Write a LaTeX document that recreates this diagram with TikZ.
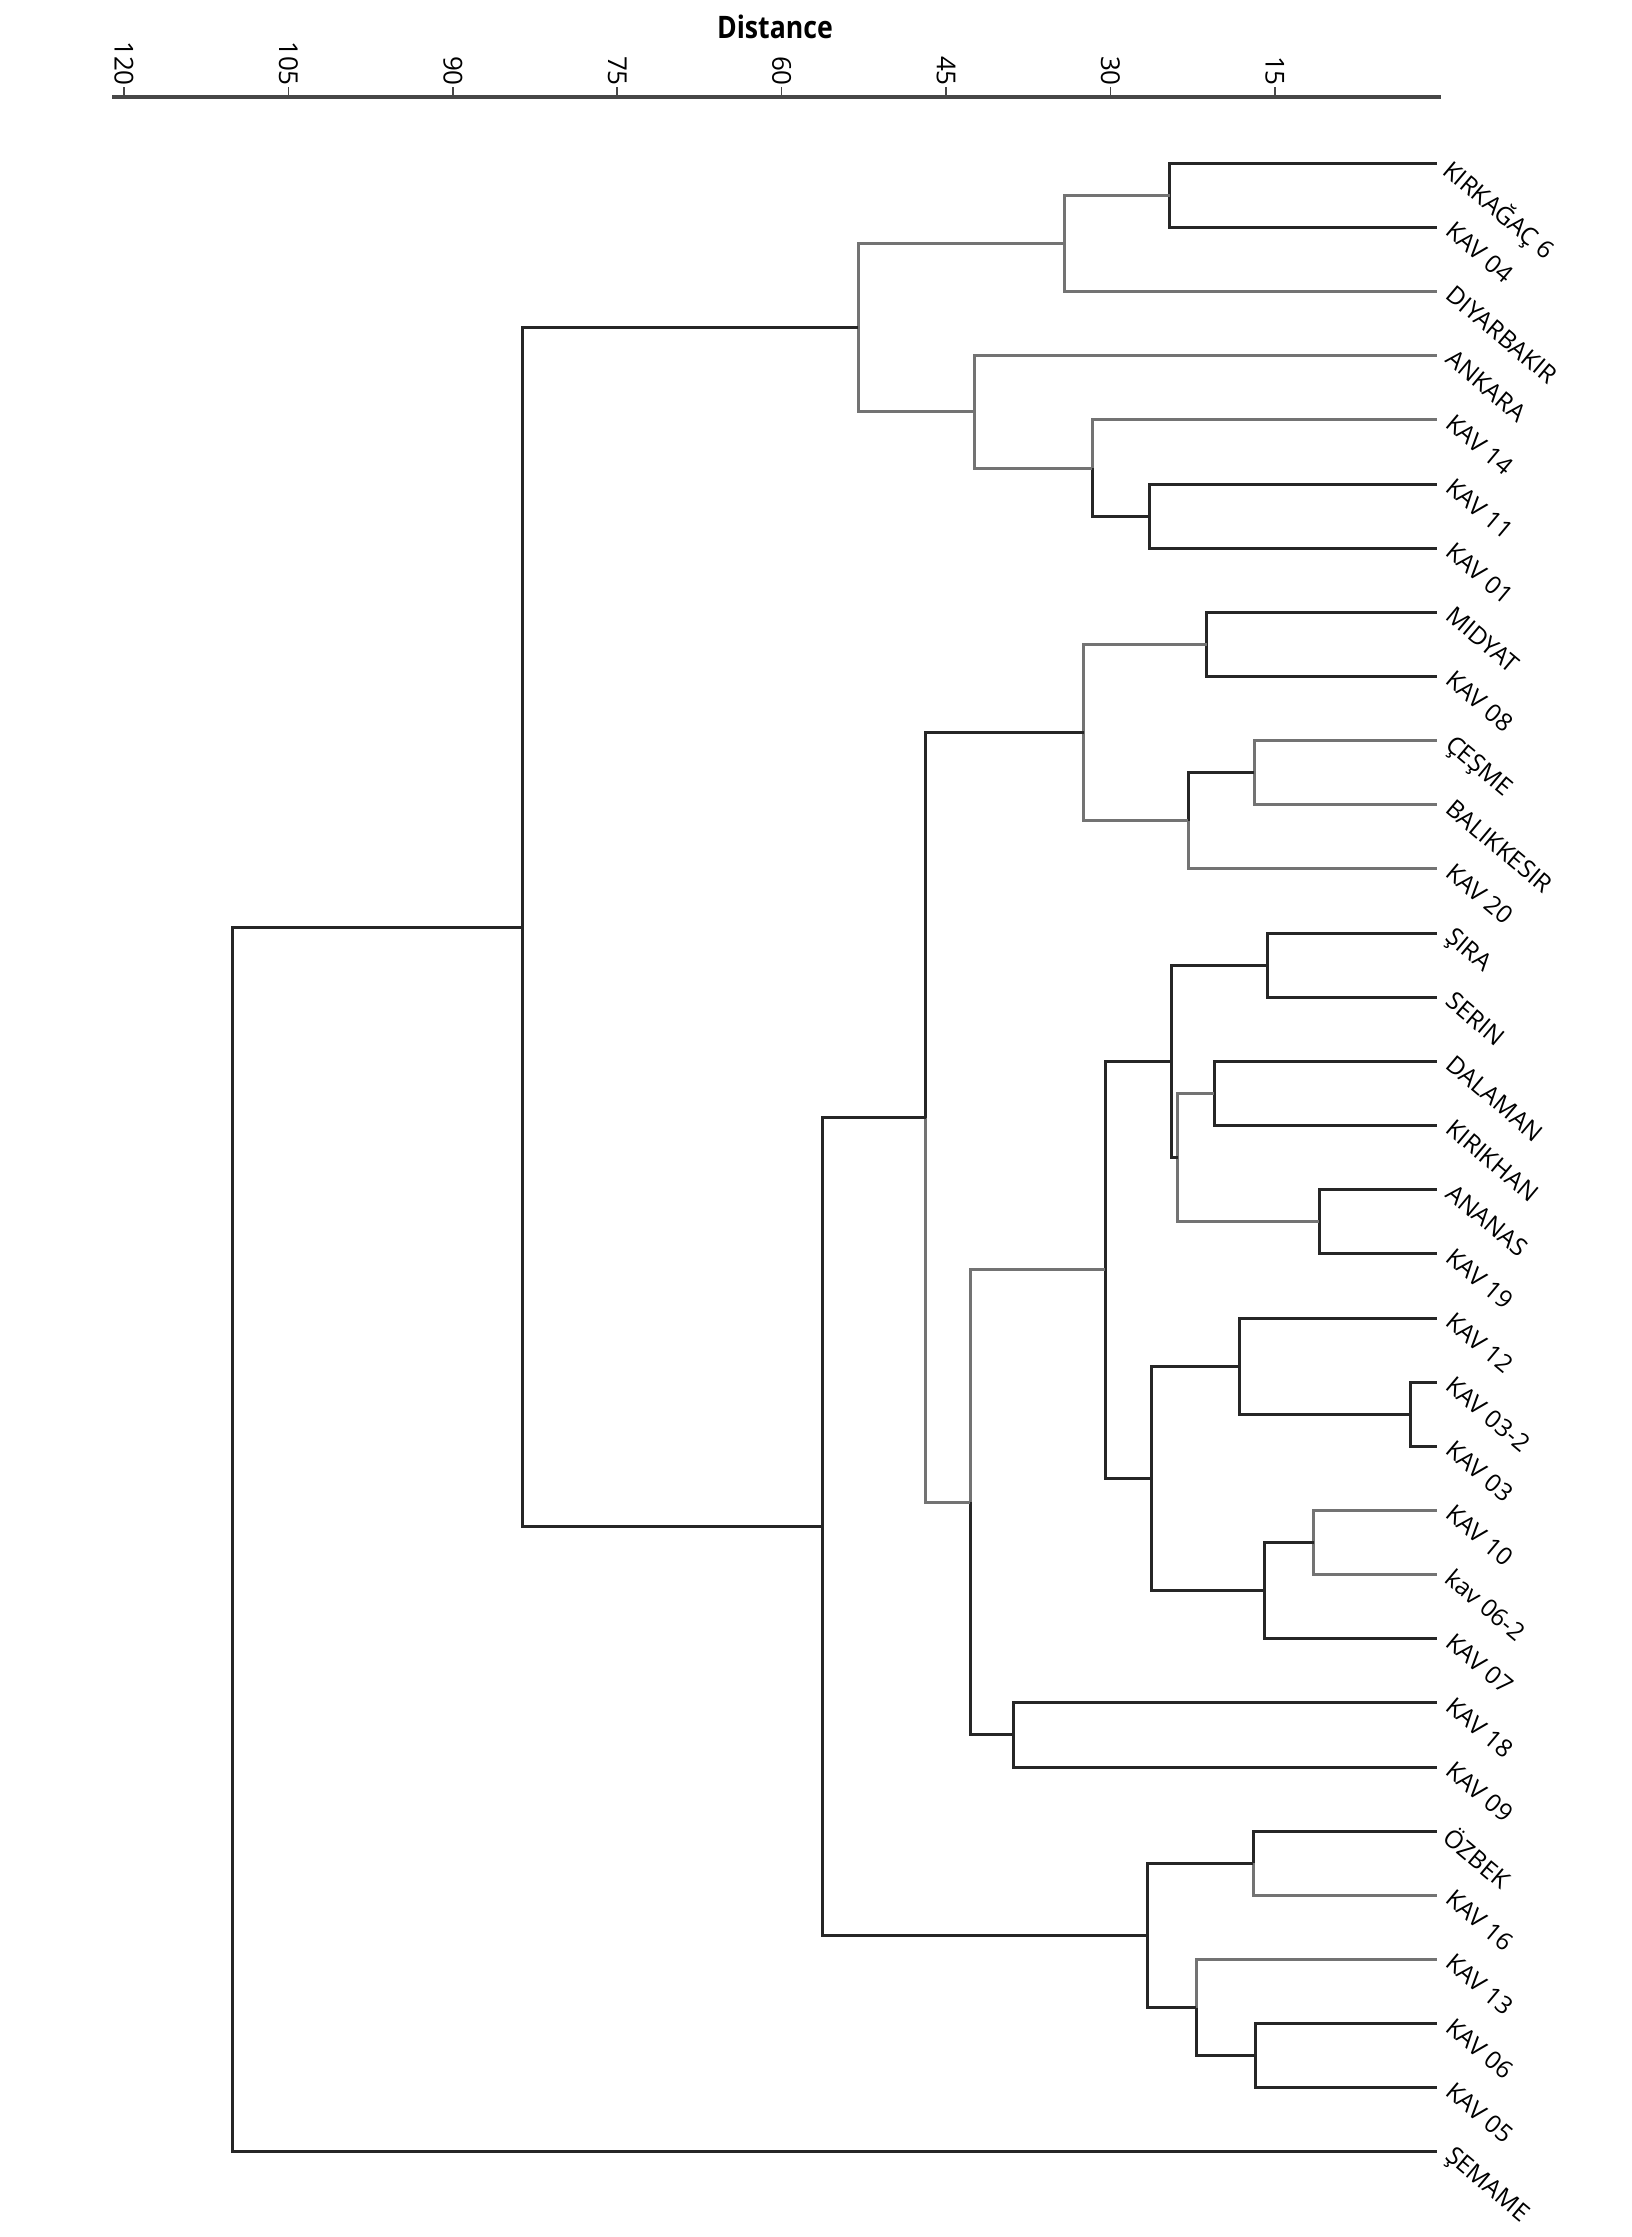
\documentclass[tikz,border=0pt]{standalone}
\usepackage{fontspec}
\setmainfont{Open Sans}
\newcommand{\leafy}[1]{163.3+64.15*(#1)}
\begin{document}
\begin{tikzpicture}[x=1pt,y=-1pt,
  dk/.style={draw=black!85, line width=3pt},
  gr/.style={draw=black!55, line width=3pt},
  lab/.style={anchor=north west, rotate=-40, inner sep=0pt, font=\fontsize{24.5}{28}\selectfont},
  tlab/.style={anchor=east, rotate=-90, inner sep=0pt, font=\fontsize{26}{30}\selectfont},
  axisline/.style={draw=black!72, line width=4.5pt},
  tickline/.style={draw=black!72, line width=1.6pt}]
\useasboundingbox (0,0) rectangle (1631,2237);
% title and axis
\node[font=\bfseries\fontsize{31}{34}\selectfont, xscale=0.86] (title) at (775,27) {Distance};
\coordinate (A0) at (112,97);
\coordinate (A1) at (1441,97);
\draw[axisline] (A0) -- (A1);
\foreach \d in {120,105,90,75,60,45,30,15}{
  \coordinate (TB\d) at ({124+(120-\d)*10.96},97);
  \coordinate (TT\d) at ({124+(120-\d)*10.96},87);
  \draw[tickline] (TB\d) -- (TT\d);
  \node[tlab] (TL\d) at ({124+(120-\d)*10.96},86) {\d};
}
% leaves
\foreach \i/\t in {0/KIRKAĞAÇ 6,1/KAV 04,2/DIYARBAKIR,3/ANKARA,4/KAV 14,5/KAV 11,6/KAV 01,7/MIDYAT,8/KAV 08,9/ÇEŞME,10/BALIKKESIR,11/KAV 20,12/ŞIRA,13/SERIN,14/DALAMAN,15/KIRIKHAN,16/ANANAS,17/KAV 19,18/KAV 12,19/KAV 03-2,20/KAV 03,21/KAV 10,22/kav 06-2,23/KAV 07,24/KAV 18,25/KAV 09,26/ÖZBEK,27/KAV 16,28/KAV 13,29/KAV 06,30/KAV 05,31/ŞEMAME}{
  \coordinate (L\i) at (1437,{\leafy{\i}});
  \node[lab] (T\i) at ([xshift=18.5pt,yshift=7.5pt]L\i) {\t};
}
% internal nodes
\coordinate (N1) at (1169.5,{\leafy{0.5}});
\coordinate (N2) at (1064,{\leafy{1.25}});
\coordinate (N3) at (1149.5,{\leafy{5.5}});
\coordinate (N4) at (1092,{\leafy{4.75}});
\coordinate (N5) at (974.5,{\leafy{3.875}});
\coordinate (N6) at (858,{\leafy{2.5625}});
\coordinate (N7) at (1206.5,{\leafy{7.5}});
\coordinate (N8) at (1254,{\leafy{9.5}});
\coordinate (N9) at (1188,{\leafy{10.25}});
\coordinate (N10) at (1083.5,{\leafy{8.875}});
\coordinate (N11) at (1267.5,{\leafy{12.5}});
\coordinate (N12) at (1214,{\leafy{14.5}});
\coordinate (N13) at (1319,{\leafy{16.5}});
\coordinate (N14) at (1177.7,{\leafy{15.5}});
\coordinate (N15) at (1171.7,{\leafy{14}});
\coordinate (N16) at (1410,{\leafy{19.5}});
\coordinate (N17) at (1239,{\leafy{18.75}});
\coordinate (N18) at (1313.5,{\leafy{21.5}});
\coordinate (N19) at (1264.7,{\leafy{22.25}});
\coordinate (N20) at (1151.7,{\leafy{20.5}});
\coordinate (N21) at (1105,{\leafy{17.25}});
\coordinate (N22) at (1013,{\leafy{24.5}});
\coordinate (N23) at (970.4,{\leafy{20.875}});
\coordinate (N24) at (925.5,{\leafy{14.875}});
\coordinate (N25) at (1253.3,{\leafy{26.5}});
\coordinate (N26) at (1255.5,{\leafy{29.5}});
\coordinate (N27) at (1196,{\leafy{28.75}});
\coordinate (N28) at (1147,{\leafy{27.625}});
\coordinate (N29) at (822,{\leafy{21.25}});
\coordinate (N30) at (522.3,{\leafy{11.90625}});
\coordinate (N31) at (232.6,{\leafy{21.453125}});
% connectors
\draw[dk] (N1) |- (L0); \draw[dk] (N1) |- (L1);
\draw[gr] (N2) |- (N1); \draw[gr] (N2) |- (L2);
\draw[dk] (N3) |- (L5); \draw[dk] (N3) |- (L6);
\draw[gr] (N4) |- (L4); \draw[dk] (N4) |- (N3);
\draw[gr] (N5) |- (L3); \draw[gr] (N5) |- (N4);
\draw[gr] (N6) |- (N2); \draw[gr] (N6) |- (N5);
\draw[dk] (N7) |- (L7); \draw[dk] (N7) |- (L8);
\draw[gr] (N8) |- (L9); \draw[gr] (N8) |- (L10);
\draw[dk] (N9) |- (N8); \draw[gr] (N9) |- (L11);
\draw[gr] (N10) |- (N7); \draw[gr] (N10) |- (N9);
\draw[dk] (N11) |- (L12); \draw[dk] (N11) |- (L13);
\draw[dk] (N12) |- (L14); \draw[dk] (N12) |- (L15);
\draw[dk] (N13) |- (L16); \draw[dk] (N13) |- (L17);
\draw[gr] (N14) |- (N12); \draw[gr] (N14) |- (N13);
\draw[dk] (N15) |- (N11); \draw[dk] (N15) |- (N14);
\draw[dk] (N16) |- (L19); \draw[dk] (N16) |- (L20);
\draw[dk] (N17) |- (L18); \draw[dk] (N17) |- (N16);
\draw[gr] (N18) |- (L21); \draw[gr] (N18) |- (L22);
\draw[dk] (N19) |- (N18); \draw[dk] (N19) |- (L23);
\draw[dk] (N20) |- (N17); \draw[dk] (N20) |- (N19);
\draw[dk] (N21) |- (N15); \draw[dk] (N21) |- (N20);
\draw[dk] (N22) |- (L24); \draw[dk] (N22) |- (L25);
\draw[gr] (N23) |- (N21); \draw[dk] (N23) |- (N22);
\draw[dk] (N24) |- (N10); \draw[gr] (N24) |- (N23);
\draw[dk] (N25) |- (L26); \draw[gr] (N25) |- (L27);
\draw[dk] (N26) |- (L29); \draw[dk] (N26) |- (L30);
\draw[gr] (N27) |- (L28); \draw[dk] (N27) |- (N26);
\draw[dk] (N28) |- (N25); \draw[dk] (N28) |- (N27);
\draw[dk] (N29) |- (N24); \draw[dk] (N29) |- (N28);
\draw[dk] (N30) |- (N6); \draw[dk] (N30) |- (N29);
\draw[dk] (N31) |- (N30); \draw[dk] (N31) |- (L31);
\end{tikzpicture}
\end{document}
